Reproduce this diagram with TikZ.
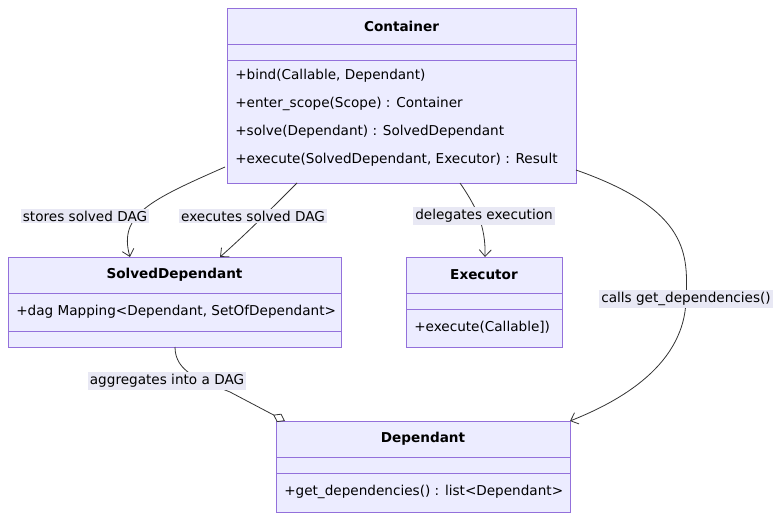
\documentclass[tikz,border=0pt]{standalone}
\usepackage{fontspec}
\setmainfont{DejaVu Sans}
\usetikzlibrary{arrows.meta}
\definecolor{umlfill}{HTML}{ECECFF}
\definecolor{umlborder}{HTML}{9370DB}
\definecolor{lblfill}{HTML}{E8E8F4}
\tikzset{
  cls/.style={draw=umlborder, fill=umlfill, line width=0.75pt, inner sep=0pt, anchor=north west},
  title/.style={font=\bfseries\fontsize{10.2}{12}\selectfont},
  member/.style={anchor=west, inner sep=0pt, font=\fontsize{10.2}{12}\selectfont},
  lbl/.style={fill=lblfill, inner sep=1.5pt, font=\fontsize{10.2}{12}\selectfont},
  dep/.style={draw=black!80, line width=0.6pt, -{Straight Barb[length=5pt,width=9pt]}},
  agg/.style={draw=black!80, line width=0.6pt, -{Diamond[open,length=10pt,width=7pt]}},
  sep/.style={draw=umlborder, line width=0.75pt}
}
\begin{document}
\begin{tikzpicture}[x=0.75pt, y=-0.75pt]
  \useasboundingbox (0,0) rectangle (784,521);

  % Container
  \node[cls, minimum width=261.75pt, minimum height=131.25pt] (container) at (227,8) {};
  \node[title] at (401.5,26) {Container};
  \draw[sep] (227,44) -- (576,44);
  \draw[sep] (227,60) -- (576,60);
  \node[member] at (235,76) {+bind(Callable, Dependant)};
  \node[member] at (235,104) {+enter\_scope(Scope) : Container};
  \node[member] at (235,132) {+solve(Dependant) : SolvedDependant};
  \node[member] at (235,160) {+execute(SolvedDependant, Executor) : Result};

  % SolvedDependant
  \node[cls, minimum width=249.75pt, minimum height=67.5pt] (solved) at (8,257) {};
  \node[title] at (174.5,275) {SolvedDependant};
  \draw[sep] (8,293) -- (341,293);
  \draw[sep] (8,331) -- (341,331);
  \node[member] at (16,312) {+dag Mapping<Dependant, SetOfDependant>};

  % Executor
  \node[cls, minimum width=117pt, minimum height=67.5pt] (executor) at (406,257) {};
  \node[title] at (484,275) {Executor};
  \draw[sep] (406,293) -- (562,293);
  \draw[sep] (406,309) -- (562,309);
  \node[member] at (414,327) {+execute(Callable])};

  % Dependant
  \node[cls, minimum width=220.5pt, minimum height=68.25pt] (dependant) at (276,421) {};
  \node[title] at (423,439) {Dependant};
  \draw[sep] (276,457) -- (570,457);
  \draw[sep] (276,473) -- (570,473);
  \node[member] at (284,492) {+get\_dependencies() : list<Dependant>};

  % relations
  \coordinate (c1) at (225,167);
  \coordinate (c2) at (297,183);
  \coordinate (c3) at (460,183);
  \coordinate (c4) at (576,170);
  \draw[dep] (c1) .. controls (150,200) and (118,215) .. (130,257);
  \draw[dep] (c2) .. controls (270,210) and (245,235) .. (220,257);
  \draw[dep] (c3) .. controls (475,205) and (486,225) .. (485,257);
  \draw[dep] (c4) .. controls (690,210) and (688,255) .. (686,300)
    .. controls (684,370) and (610,405) .. (570,421);
  \draw[agg] (175,347) .. controls (175,372) and (200,380) .. (230,392) -- (285,421);

  \node[lbl] at (85,216) {stores solved DAG};
  \node[lbl] at (253,216) {executes solved DAG};
  \node[lbl] at (484,216) {delegates execution};
  \node[lbl] at (686,299) {calls get\_dependencies()};
  \node[lbl] at (167,381) {aggregates into a DAG};
\end{tikzpicture}
\end{document}
